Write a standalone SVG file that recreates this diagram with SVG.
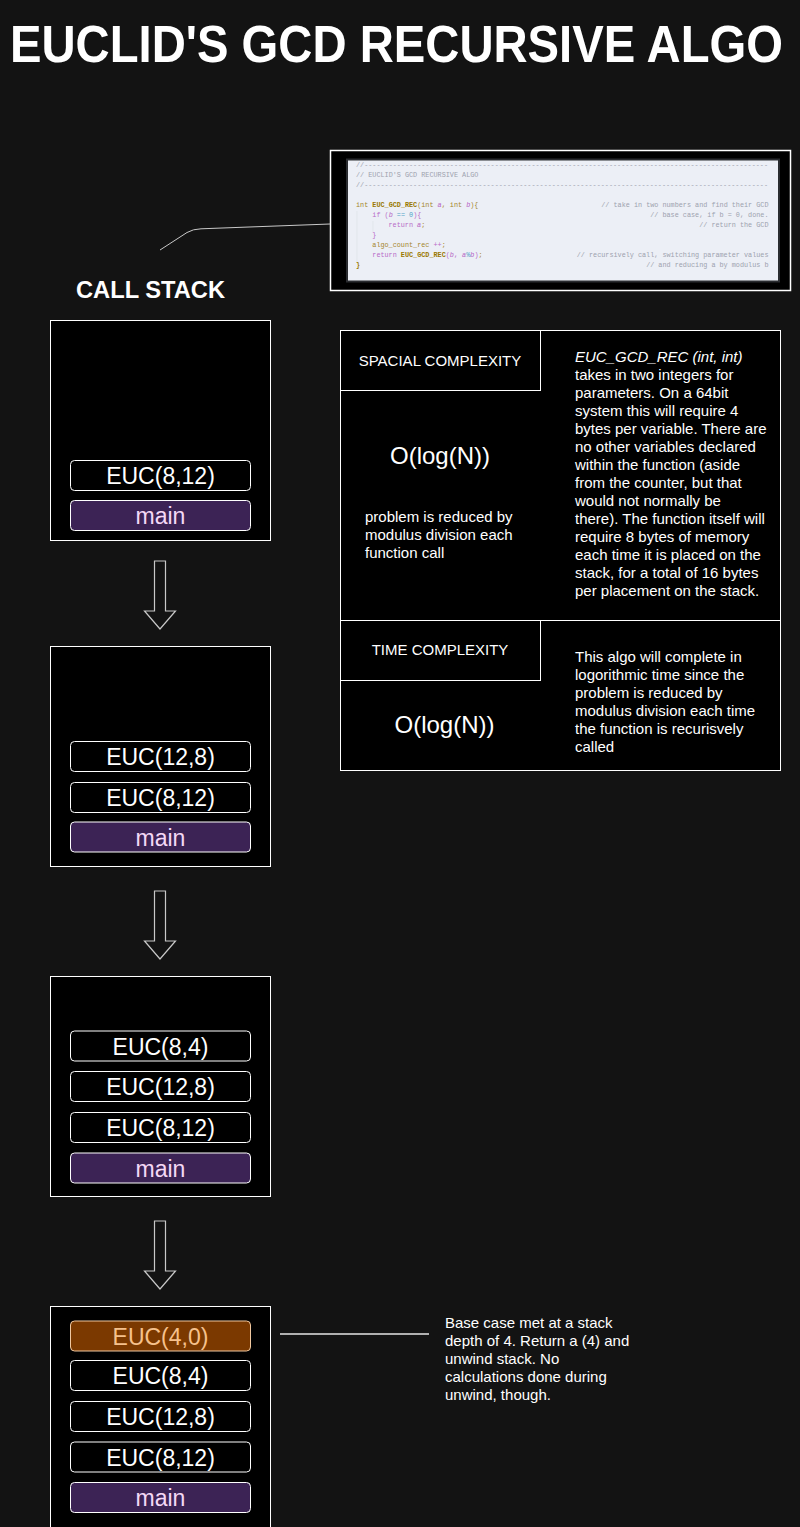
<svg xmlns="http://www.w3.org/2000/svg" width="800" height="1527" viewBox="0 0 800 1527">
<style>
.t{font-family:"Liberation Sans",Arial,sans-serif;fill:#fff}
.frame{fill:#000;stroke:#fff;stroke-width:1}
.item{fill:#000;stroke:#fff;stroke-width:1}
.main{fill:#3c2355;stroke:#fff;stroke-width:1}
.lbl{font-family:"Liberation Sans",Arial,sans-serif;font-size:23px;fill:#fff;text-anchor:middle}
.mlbl{font-family:"Liberation Sans",Arial,sans-serif;font-size:23px;fill:#f4d8f6;text-anchor:middle}
.p{font-family:"Liberation Sans",Arial,sans-serif;font-size:15px;fill:#fff}
.arrow{fill:none;stroke:#c8c8c8;stroke-width:1.2}
.code{font-family:"Liberation Mono","DejaVu Sans Mono",monospace;font-size:6.8px;fill:#9da2ae}
.kw{fill:#a5862c}
.fn{fill:#9a7800;font-weight:bold}
.vr{fill:#b563c4;font-style:italic}
.pk{fill:#b86cc8}
.op{fill:#4fa3c7}
.cell{fill:none;stroke:#fff;stroke-width:1}
</style>
<rect x="0" y="0" width="800" height="1527" fill="#131313"/>

<text class="t" transform="translate(10,62) scale(1,1.09)" x="0" y="0" font-size="47" font-weight="bold" textLength="773" lengthAdjust="spacingAndGlyphs">EUCLID'S GCD RECURSIVE ALGO</text>

<g id="code">
<rect x="330.5" y="150.5" width="460" height="140" fill="#000" stroke="#fff" stroke-width="1.5"/>
<rect x="346" y="158.5" width="434" height="124" fill="#2a2c30"/>
<rect x="348" y="160.5" width="430" height="120" fill="#eceff6"/>
<line x1="357" y1="211" x2="357" y2="263" stroke="#dcdfe6" stroke-width="0.6"/>
<line x1="373" y1="221" x2="373" y2="232" stroke="#dcdfe6" stroke-width="0.6"/>
<text class="code" x="356" y="167" textLength="412" lengthAdjust="spacingAndGlyphs">//---------------------------------------------------------------------------------------------------</text>
<text class="code" x="356" y="177">// EUCLID'S GCD RECURSIVE ALGO</text>
<text class="code" x="356" y="187" textLength="412" lengthAdjust="spacingAndGlyphs">//---------------------------------------------------------------------------------------------------</text>
<text class="code" x="356" y="207"><tspan class="kw">int </tspan><tspan class="fn">EUC_GCD_REC</tspan><tspan class="kw">(int </tspan><tspan class="vr">a</tspan><tspan class="kw">, int </tspan><tspan class="vr">b</tspan><tspan class="kw">){</tspan></text>
<text class="code" x="768.5" y="207" text-anchor="end">// take in two numbers and find their GCD</text>
<text class="code" x="372.3" y="217"><tspan class="pk">if (</tspan><tspan class="vr">b</tspan><tspan class="op"> == 0</tspan><tspan class="pk">){</tspan></text>
<text class="code" x="768.5" y="217" text-anchor="end">// base case, if b = 0, done.</text>
<text class="code" x="388.5" y="227"><tspan class="pk">return </tspan><tspan class="vr">a</tspan><tspan class="kw">;</tspan></text>
<text class="code" x="768.5" y="227" text-anchor="end">// return the GCD</text>
<text class="code" x="372.3" y="236.5"><tspan class="pk">}</tspan></text>
<text class="code" x="372.3" y="246.5"><tspan class="kw">algo_count_rec </tspan><tspan class="pk">++</tspan><tspan class="kw">;</tspan></text>
<text class="code" x="372.3" y="256.5"><tspan class="pk">return </tspan><tspan class="fn">EUC_GCD_REC</tspan><tspan class="pk">(</tspan><tspan class="vr">b</tspan><tspan class="pk">, </tspan><tspan class="vr">a</tspan><tspan class="op">%</tspan><tspan class="vr">b</tspan><tspan class="pk">)</tspan><tspan class="kw">;</tspan></text>
<text class="code" x="768.5" y="256.5" text-anchor="end">// recursively call, switching parameter values</text>
<text class="code" x="356" y="266.5"><tspan class="fn">}</tspan></text>
<text class="code" x="768.5" y="266.5" text-anchor="end">// and reducing a by modulus b</text>
</g>

<g id="connectors">
<path d="M160,250 L187,232.5 Q193,229 201,228.8 L330,224" fill="none" stroke="#c8c8c8" stroke-width="1"/>
<path class="arrow" d="M154.5,561 L165.5,561 L165.5,611 L175.5,611 L160,629 L144.5,611 L154.5,611 Z"/>
<path class="arrow" d="M154.5,891 L165.5,891 L165.5,941 L175.5,941 L160,959 L144.5,941 L154.5,941 Z"/>
<path class="arrow" d="M154.5,1221 L165.5,1221 L165.5,1271 L175.5,1271 L160,1289 L144.5,1271 L154.5,1271 Z"/>
<line x1="280" y1="1334" x2="429" y2="1334" stroke="#e6e6e6" stroke-width="1.5"/>
</g>

<text class="t" x="76" y="298" font-size="24" font-weight="bold" textLength="149" lengthAdjust="spacingAndGlyphs">CALL STACK</text>

<g id="stack1">
<rect class="frame" x="50.5" y="320.5" width="220" height="220"/>
<rect class="item" x="70.5" y="460.5" width="180" height="30" rx="4"/>
<text class="lbl" x="160.5" y="484">EUC(8,12)</text>
<rect class="main" x="70.5" y="500.5" width="180" height="30" rx="4"/>
<text class="mlbl" x="160.5" y="524">main</text>
</g>

<g id="stack2">
<rect class="frame" x="50.5" y="646.5" width="220" height="220"/>
<rect class="item" x="70.5" y="741.5" width="180" height="30" rx="4"/>
<text class="lbl" x="160.5" y="765">EUC(12,8)</text>
<rect class="item" x="70.5" y="782.5" width="180" height="30" rx="4"/>
<text class="lbl" x="160.5" y="806">EUC(8,12)</text>
<rect class="main" x="70.5" y="822" width="180" height="30" rx="4"/>
<text class="mlbl" x="160.5" y="845.5">main</text>
</g>

<g id="stack3">
<rect class="frame" x="50.5" y="976.5" width="220" height="220"/>
<rect class="item" x="70.5" y="1031" width="180" height="30" rx="4"/>
<text class="lbl" x="160.5" y="1054.5">EUC(8,4)</text>
<rect class="item" x="70.5" y="1071.5" width="180" height="30" rx="4"/>
<text class="lbl" x="160.5" y="1095">EUC(12,8)</text>
<rect class="item" x="70.5" y="1112.5" width="180" height="30" rx="4"/>
<text class="lbl" x="160.5" y="1136">EUC(8,12)</text>
<rect class="main" x="70.5" y="1153" width="180" height="30" rx="4"/>
<text class="mlbl" x="160.5" y="1176.5">main</text>
</g>

<g id="stack4">
<rect class="frame" x="50.5" y="1306.5" width="220" height="230"/>
<rect x="70.5" y="1321" width="180" height="30" rx="4" fill="#7b3900" stroke="#f0c8a0" stroke-width="1"/>
<text class="lbl" x="160.5" y="1344.5" style="fill:#f6c18c">EUC(4,0)</text>
<rect class="item" x="70.5" y="1360.5" width="180" height="30" rx="4"/>
<text class="lbl" x="160.5" y="1384">EUC(8,4)</text>
<rect class="item" x="70.5" y="1401.5" width="180" height="30" rx="4"/>
<text class="lbl" x="160.5" y="1425">EUC(12,8)</text>
<rect class="item" x="70.5" y="1442" width="180" height="30" rx="4"/>
<text class="lbl" x="160.5" y="1465.5">EUC(8,12)</text>
<rect class="main" x="70.5" y="1482.5" width="180" height="30" rx="4"/>
<text class="mlbl" x="160.5" y="1506">main</text>
</g>

<g id="basecase-note">
<text class="p"><tspan x="445" y="1327.7">Base case met at a stack</tspan><tspan x="445" y="1345.7">depth of 4. Return a (4) and</tspan><tspan x="445" y="1363.7">unwind stack. No</tspan><tspan x="445" y="1381.7">calculations done during</tspan><tspan x="445" y="1399.7">unwind, though.</tspan></text>
</g>

<g id="complexity">
<rect x="340.5" y="330.5" width="440" height="440" fill="#000" stroke="#fff" stroke-width="1"/>
<rect class="cell" x="340.5" y="330.5" width="200" height="60"/>
<line x1="340.5" y1="620.5" x2="780.5" y2="620.5" stroke="#fff" stroke-width="1"/>
<rect class="cell" x="340.5" y="620.5" width="200" height="60"/>
<text class="p" x="440" y="365.7" text-anchor="middle" font-size="14.7">SPACIAL COMPLEXITY</text>
<text class="t" x="440" y="464" font-size="24" text-anchor="middle">O(log(N))</text>
<text class="p"><tspan x="365" y="521.7">problem is reduced by</tspan><tspan x="365" y="539.7">modulus division each</tspan><tspan x="365" y="557.7">function call</tspan></text>
<text class="p"><tspan x="575" y="361.7" font-style="italic">EUC_GCD_REC (int, int)</tspan><tspan x="575" y="379.7">takes in two integers for</tspan><tspan x="575" y="397.7">parameters. On a 64bit</tspan><tspan x="575" y="415.7">system this will require 4</tspan><tspan x="575" y="433.7">bytes per variable. There are</tspan><tspan x="575" y="451.7">no other variables declared</tspan><tspan x="575" y="469.7">within the function (aside</tspan><tspan x="575" y="487.7">from the counter, but that</tspan><tspan x="575" y="505.7">would not normally be</tspan><tspan x="575" y="523.7">there). The function itself will</tspan><tspan x="575" y="541.7">require 8 bytes of memory</tspan><tspan x="575" y="559.7">each time it is placed on the</tspan><tspan x="575" y="577.7">stack, for a total of 16 bytes</tspan><tspan x="575" y="595.7">per placement on the stack.</tspan></text>
<text class="p" x="440" y="655.3" text-anchor="middle" font-size="14.7">TIME COMPLEXITY</text>
<text class="t" x="444.5" y="733" font-size="24" text-anchor="middle">O(log(N))</text>
<text class="p"><tspan x="575" y="661.7">This algo will complete in</tspan><tspan x="575" y="679.7">logorithmic time since the</tspan><tspan x="575" y="697.7">problem is reduced by</tspan><tspan x="575" y="715.7">modulus division each time</tspan><tspan x="575" y="733.7">the function is recurisvely</tspan><tspan x="575" y="751.7">called</tspan></text>
</g>
</svg>
